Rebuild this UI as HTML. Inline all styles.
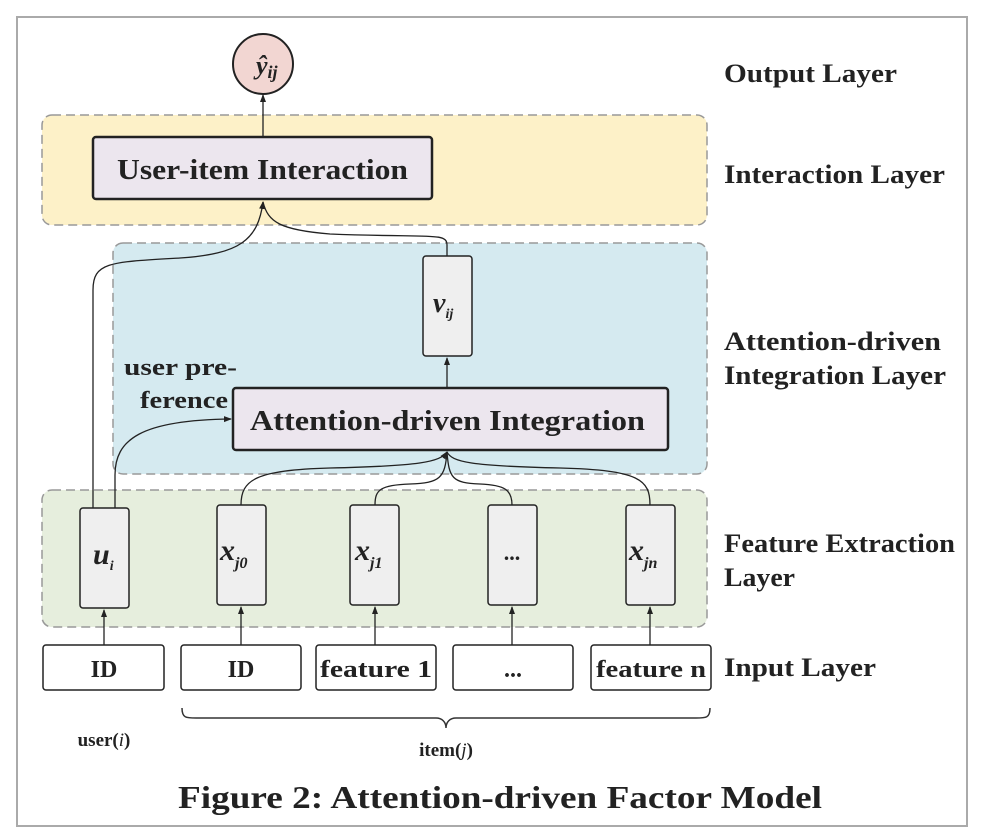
<!DOCTYPE html>
<html><head><meta charset="utf-8"><style>body{margin:0;background:#fff}svg{display:block}text{font-family:"Liberation Serif",serif;font-weight:bold;fill:#222}</style></head><body>
<svg width="984" height="836" viewBox="0 0 984 836" xmlns="http://www.w3.org/2000/svg">
<defs><marker id="a" markerWidth="8" markerHeight="8" refX="7" refY="4" orient="auto" markerUnits="userSpaceOnUse"><path d="M0,1 L8,4 L0,7z" fill="#222"/></marker></defs>
<rect x="17" y="17" width="950" height="809" fill="#fff" stroke="#aaa" stroke-width="2"/>
<rect x="42" y="115" width="665" height="110" rx="10" fill="#fdf1c8" stroke="#999" stroke-width="1.5" stroke-dasharray="9,5"/>
<rect x="113" y="243" width="594" height="231" rx="10" fill="#d5eaf0" stroke="#999" stroke-width="1.5" stroke-dasharray="9,5"/>
<rect x="42" y="490" width="665" height="137" rx="10" fill="#e6eedd" stroke="#999" stroke-width="1.5" stroke-dasharray="9,5"/>
<circle cx="263" cy="64" r="30" fill="#f2d6d2" stroke="#222" stroke-width="2"/>
<text x="256" y="74" font-size="26" font-style="italic">ŷ<tspan font-size="18" dy="4">ij</tspan></text>
<line x1="263" y1="137" x2="263" y2="95" stroke="#222" stroke-width="1.3" marker-end="url(#a)"/>
<rect x="93" y="137" width="339" height="62" rx="3" fill="#ece6ee" stroke="#222" stroke-width="2.5"/>
<text x="117" y="179" font-size="28" textLength="291" lengthAdjust="spacingAndGlyphs">User-item Interaction</text>
<rect x="423" y="256" width="49" height="100" rx="3" fill="#efefef" stroke="#222" stroke-width="1.5"/>
<text x="433" y="312" font-size="28" font-style="italic">v<tspan font-size="14" dy="6">ij</tspan></text>
<line x1="447" y1="388" x2="447" y2="358" stroke="#222" stroke-width="1.3" marker-end="url(#a)"/>
<rect x="233" y="388" width="435" height="62" rx="3" fill="#ece6ee" stroke="#222" stroke-width="2.5"/>
<text x="250" y="430" font-size="28" textLength="395" lengthAdjust="spacingAndGlyphs">Attention-driven Integration</text>
<text x="124" y="375" font-size="24" textLength="113" lengthAdjust="spacingAndGlyphs">user pre-</text>
<text x="140" y="408" font-size="24" textLength="88" lengthAdjust="spacingAndGlyphs">ference</text>
<g fill="none" stroke="#222" stroke-width="1.3">
<path d="M93,508 L93,290 C93,262 110,262 180,258 C240,254 258,240 263,202" marker-end="url(#a)"/>
<path d="M447,256 L447,245 C447,232 430,238 330,234 C280,230 268,222 263,202"/>
<path d="M115,508 L115,475 C115,440 140,420 231,419" marker-end="url(#a)"/>
<path d="M241,505 C241,480 255,470 330,468 C420,466 440,462 447,452" marker-end="url(#a)"/>
<path d="M375,505 C375,490 380,485 410,484 C440,483 445,478 447,452"/>
<path d="M512,505 C512,490 505,485 480,484 C452,483 449,478 447,452"/>
<path d="M650,505 C650,480 640,470 560,468 C470,466 452,462 447,452"/>
</g>
<g fill="#efefef" stroke="#222" stroke-width="1.5">
<rect x="80" y="508" width="49" height="100" rx="3"/>
<rect x="217" y="505" width="49" height="100" rx="3"/>
<rect x="350" y="505" width="49" height="100" rx="3"/>
<rect x="488" y="505" width="49" height="100" rx="3"/>
<rect x="626" y="505" width="49" height="100" rx="3"/>
</g>
<text x="93" y="564" font-size="30" font-style="italic">u<tspan font-size="14" dy="6">i</tspan></text>
<text x="220" y="560" font-size="30" font-style="italic">x<tspan font-size="16" dy="8">j0</tspan></text>
<text x="355" y="560" font-size="30" font-style="italic">x<tspan font-size="16" dy="8">j1</tspan></text>
<text x="512" y="560" font-size="22" text-anchor="middle">...</text>
<text x="629" y="560" font-size="30" font-style="italic">x<tspan font-size="16" dy="8">jn</tspan></text>
<g stroke="#222" stroke-width="1.3" marker-end="url(#a)">
<line x1="104" y1="645" x2="104" y2="610"/>
<line x1="241" y1="645" x2="241" y2="607"/>
<line x1="375" y1="645" x2="375" y2="607"/>
<line x1="512" y1="645" x2="512" y2="607"/>
<line x1="650" y1="645" x2="650" y2="607"/>
</g>
<g fill="#fff" stroke="#222" stroke-width="1.5">
<rect x="43" y="645" width="121" height="45" rx="3"/>
<rect x="181" y="645" width="120" height="45" rx="3"/>
<rect x="316" y="645" width="120" height="45" rx="3"/>
<rect x="453" y="645" width="120" height="45" rx="3"/>
<rect x="591" y="645" width="120" height="45" rx="3"/>
</g>
<g font-size="24" text-anchor="middle">
<text x="104" y="677">ID</text><text x="241" y="677">ID</text><text x="376" y="677" textLength="112" lengthAdjust="spacingAndGlyphs">feature 1</text><text x="513" y="677">...</text><text x="651" y="677" textLength="110" lengthAdjust="spacingAndGlyphs">feature n</text>
</g>
<path d="M182,708 C182,718 186,718 196,718 L436,718 C442,718 446,722 446,728 C446,722 450,718 456,718 L696,718 C706,718 710,718 710,708" fill="none" stroke="#333" stroke-width="1.5"/>
<text x="104" y="746" font-size="19" text-anchor="middle">user(<tspan font-style="italic" font-weight="normal">i</tspan>)</text>
<text x="446" y="756" font-size="19" text-anchor="middle">item(<tspan font-style="italic" font-weight="normal">j</tspan>)</text>
<g font-size="26" lengthAdjust="spacingAndGlyphs">
<text x="724" y="82" textLength="173" lengthAdjust="spacingAndGlyphs">Output Layer</text>
<text x="724" y="183" textLength="221" lengthAdjust="spacingAndGlyphs">Interaction Layer</text>
<text x="724" y="350" textLength="217" lengthAdjust="spacingAndGlyphs">Attention-driven</text>
<text x="724" y="384" textLength="222" lengthAdjust="spacingAndGlyphs">Integration Layer</text>
<text x="724" y="552" textLength="231" lengthAdjust="spacingAndGlyphs">Feature Extraction</text>
<text x="724" y="586" textLength="71" lengthAdjust="spacingAndGlyphs">Layer</text>
<text x="724" y="676" textLength="152" lengthAdjust="spacingAndGlyphs">Input Layer</text>
</g>
<text x="178" y="808" font-size="32" textLength="644" lengthAdjust="spacingAndGlyphs">Figure 2: Attention-driven Factor Model</text>
</svg>
</body></html>
